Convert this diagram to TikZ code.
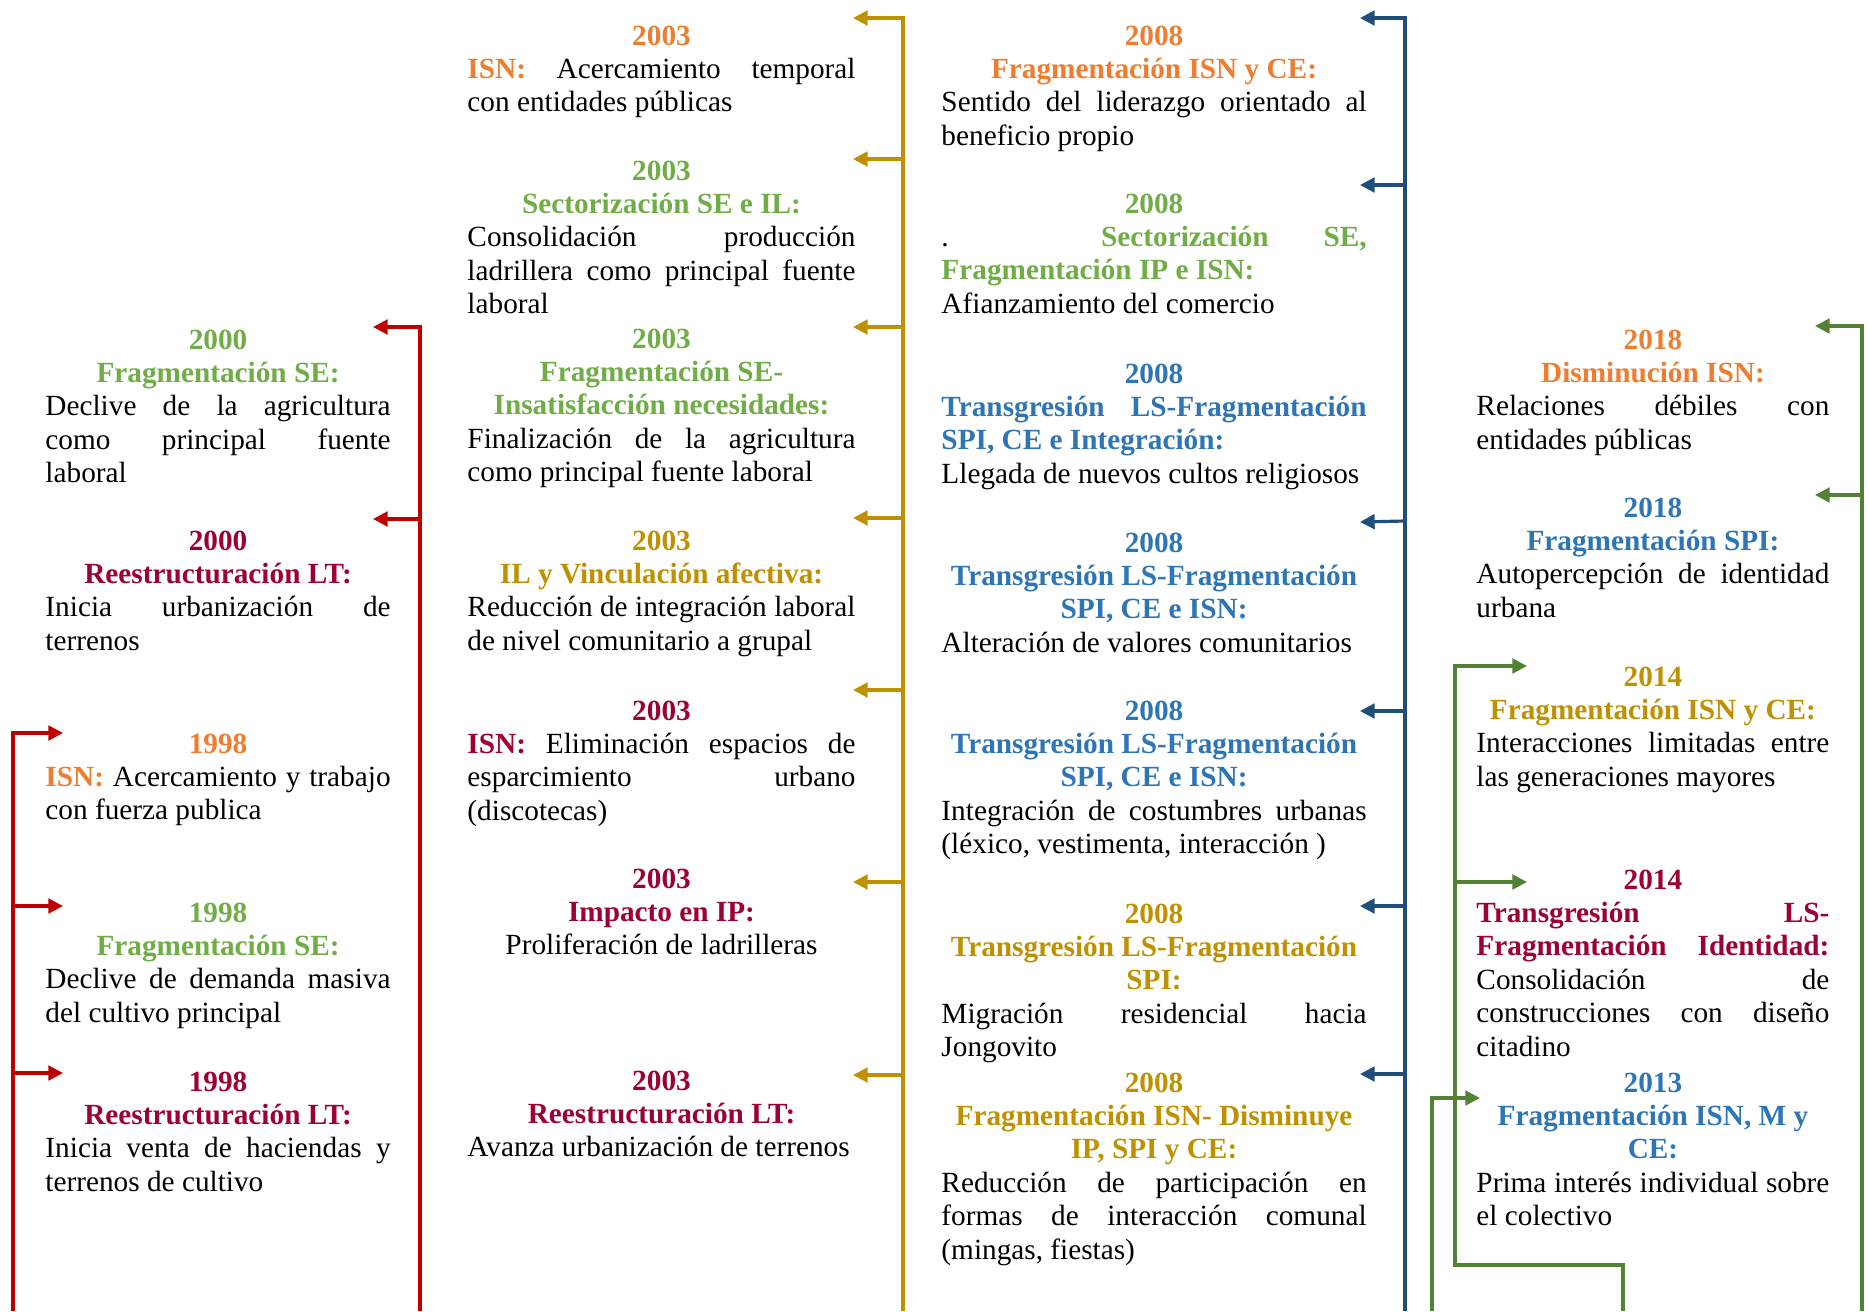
\documentclass[tikz,border=0pt]{standalone}
\usepackage{fontspec}
\setmainfont{Liberation Serif}
\usetikzlibrary{arrows.meta}
\definecolor{corange}{HTML}{ED7D31}
\definecolor{cgreen}{HTML}{70AD47}
\definecolor{cred}{HTML}{9C0036}
\definecolor{cgold}{HTML}{BF9000}
\definecolor{cblue}{HTML}{2E75B6}
\definecolor{lred}{HTML}{C00000}
\definecolor{lgold}{HTML}{BF9000}
\definecolor{lblue}{HTML}{1F4E79}
\definecolor{lgreen}{HTML}{538135}
\newcommand{\hd}[2]{\textcolor{#1}{\bfseries #2}}
\newcommand{\centreline}[1]{\makebox[\linewidth][c]{#1}}
\newcommand{\justline}[1]{\makebox[\linewidth][s]{#1}}

\begin{document}
\begin{tikzpicture}[x=0.41pt, y=-0.41pt,
    entry/.style={anchor=base west, inner sep=0pt, align=flush left, font=\fontsize{12}{13.7}\selectfont},
    colA/.style={entry, text width=141.5pt},
    colB/.style={entry, text width=159.1pt},
    colC/.style={entry, text width=174.3pt},
    colD/.style={entry, text width=144.7pt},
    pointer/.style={-{Triangle[length=6pt,width=6pt]}},
    redline/.style={draw=lred, line width=1.3pt},
    goldline/.style={draw=lgold, line width=1.3pt},
    blueline/.style={draw=lblue, line width=1.3pt},
    greenline/.style={draw=lgreen, line width=1.3pt}]
    \useasboundingbox (0,0) rectangle (1868,1311);

    % primera columna: 1998 - 2000
    \node (a1) [colA] at (45,349) {\centreline{\hd{cgreen}{2000}}\\\centreline{\hd{cgreen}{Fragmentación SE:}}\\\justline{Declive de la agricultura}\\\justline{como principal fuente}\\laboral};
    \node (a2) [colA] at (45,550) {\centreline{\hd{cred}{2000}}\\\centreline{\hd{cred}{Reestructuración LT:}}\\\justline{Inicia urbanización de}\\terrenos};
    \node (a3) [colA] at (45,753) {\centreline{\hd{corange}{1998}}\\\justline{\hd{corange}{ISN:} Acercamiento y trabajo}\\con fuerza publica};
    \node (a4) [colA] at (45,922) {\centreline{\hd{cgreen}{1998}}\\\centreline{\hd{cgreen}{Fragmentación SE:}}\\\justline{Declive de demanda masiva}\\del cultivo principal};
    \node (a5) [colA] at (45,1091) {\centreline{\hd{cred}{1998}}\\\centreline{\hd{cred}{Reestructuración LT:}}\\\justline{Inicia venta de haciendas y}\\terrenos de cultivo};

    % segunda columna: 2003
    \node (b1) [colB] at (467,45) {\centreline{\hd{corange}{2003}}\\\justline{\hd{corange}{ISN:} Acercamiento temporal}\\con entidades públicas};
    \node (b2) [colB] at (467,180) {\centreline{\hd{cgreen}{2003}}\\\centreline{\hd{cgreen}{Sectorización SE e IL:}}\\\justline{Consolidación producción}\\\justline{ladrillera como principal fuente}\\laboral};
    \node (b3) [colB] at (467,348) {\centreline{\hd{cgreen}{2003}}\\\centreline{\hd{cgreen}{Fragmentación SE-}}\\\centreline{\hd{cgreen}{Insatisfacción necesidades:}}\\\justline{Finalización de la agricultura}\\como principal fuente laboral};
    \node (b4) [colB] at (467,550) {\centreline{\hd{cgold}{2003}}\\\centreline{\hd{cgold}{IL y Vinculación afectiva:}}\\\justline{Reducción de integración laboral}\\de nivel comunitario a grupal};
    \node (b5) [colB] at (467,720) {\centreline{\hd{cred}{2003}}\\\justline{\hd{cred}{ISN:} Eliminación espacios de}\\\justline{esparcimiento urbano}\\(discotecas)};
    \node (b6) [colB] at (467,888) {\centreline{\hd{cred}{2003}}\\\centreline{\hd{cred}{Impacto en IP:}}\\\centreline{Proliferación de ladrilleras}};
    \node (b7) [colB] at (467,1090) {\centreline{\hd{cred}{2003}}\\\centreline{\hd{cred}{Reestructuración LT:}}\\Avanza urbanización de terrenos};

    % tercera columna: 2008
    \node (c1) [colC] at (941,45) {\centreline{\hd{corange}{2008}}\\\centreline{\hd{corange}{Fragmentación ISN y CE:}}\\\justline{Sentido del liderazgo orientado al}\\beneficio propio};
    \node (c2) [colC] at (941,213) {\centreline{\hd{cgreen}{2008}}\\\justline{. \hd{cgreen}{Sectorización SE,}}\\\hd{cgreen}{Fragmentación IP e ISN:}\\Afianzamiento del comercio};
    \node (c3) [colC] at (941,383) {\centreline{\hd{cblue}{2008}}\\\justline{\hd{cblue}{Transgresión LS-Fragmentación}}\\\hd{cblue}{SPI, CE e Integración:}\\Llegada de nuevos cultos religiosos};
    \node (c4) [colC] at (941,552) {\centreline{\hd{cblue}{2008}}\\\centreline{\hd{cblue}{Transgresión LS-Fragmentación}}\\\centreline{\hd{cblue}{SPI, CE e ISN:}}\\Alteración de valores comunitarios};
    \node (c5) [colC] at (941,720) {\centreline{\hd{cblue}{2008}}\\\centreline{\hd{cblue}{Transgresión LS-Fragmentación}}\\\centreline{\hd{cblue}{SPI, CE e ISN:}}\\\justline{Integración de costumbres urbanas}\\(léxico, vestimenta, interacción )};
    \node (c6) [colC] at (941,923) {\centreline{\hd{cgold}{2008}}\\\centreline{\hd{cgold}{Transgresión LS-Fragmentación}}\\\centreline{\hd{cgold}{SPI:}}\\\justline{Migración residencial hacia}\\Jongovito};
    \node (c7) [colC] at (941,1092) {\centreline{\hd{cgold}{2008}}\\\centreline{\hd{cgold}{Fragmentación ISN- Disminuye}}\\\centreline{\hd{cgold}{IP, SPI y CE:}}\\\justline{Reducción de participación en}\\\justline{formas de interacción comunal}\\(mingas, fiestas)};

    % cuarta columna: 2013 - 2018
    \node (d1) [colD] at (1476,349) {\centreline{\hd{corange}{2018}}\\\centreline{\hd{corange}{Disminución ISN:}}\\\justline{Relaciones débiles con}\\entidades públicas};
    \node (d2) [colD] at (1476,517) {\centreline{\hd{cblue}{2018}}\\\centreline{\hd{cblue}{Fragmentación SPI:}}\\\justline{Autopercepción de identidad}\\urbana};
    \node (d3) [colD] at (1476,686) {\centreline{\hd{cgold}{2014}}\\\centreline{\hd{cgold}{Fragmentación ISN y CE:}}\\\justline{Interacciones limitadas entre}\\las generaciones mayores};
    \node (d4) [colD] at (1476,889) {\centreline{\hd{cred}{2014}}\\\justline{\hd{cred}{Transgresión LS-}}\\\justline{\hd{cred}{Fragmentación Identidad:}}\\\justline{Consolidación de}\\\justline{construcciones con diseño}\\citadino};
    \node (d5) [colD] at (1476,1092) {\centreline{\hd{cblue}{2013}}\\\centreline{\hd{cblue}{Fragmentación ISN, M y}}\\\centreline{\hd{cblue}{CE:}}\\\justline{Prima interés individual sobre}\\el colectivo};

    % lineas de tiempo
    \coordinate (ra0) at (13,1311);
    \coordinate (ra1) at (13,733);
    \coordinate (ra2) at (13,906);
    \coordinate (ra3) at (13,1073);
    \coordinate (ta3) at (63,733);
    \coordinate (ta4) at (63,906);
    \coordinate (ta5) at (63,1073);
    \coordinate (rb0) at (420,1311);
    \coordinate (rb1) at (420,327);
    \coordinate (rb2) at (420,519);
    \coordinate (ta1) at (373,327);
    \coordinate (ta2) at (373,519);

    \coordinate (g0) at (903,1311);
    \coordinate (g1) at (903,18);
    \coordinate (g2) at (903,159);
    \coordinate (g3) at (903,327);
    \coordinate (g4) at (903,518);
    \coordinate (g5) at (903,690);
    \coordinate (g6) at (903,882);
    \coordinate (g7) at (903,1075);
    \coordinate (tb1) at (853,18);
    \coordinate (tb2) at (853,159);
    \coordinate (tb3) at (853,327);
    \coordinate (tb4) at (853,518);
    \coordinate (tb5) at (853,690);
    \coordinate (tb6) at (853,882);
    \coordinate (tb7) at (853,1075);

    \coordinate (u0) at (1405,1311);
    \coordinate (u1) at (1405,18);
    \coordinate (u2) at (1405,185);
    \coordinate (u3) at (1405,521);
    \coordinate (u4) at (1405,711);
    \coordinate (u5) at (1405,906);
    \coordinate (u6) at (1405,1074);
    \coordinate (tc1) at (1360,18);
    \coordinate (tc2) at (1360,185);
    \coordinate (tc3) at (1360,522);
    \coordinate (tc4) at (1360,711);
    \coordinate (tc5) at (1360,906);
    \coordinate (tc6) at (1360,1074);

    \coordinate (v0) at (1862,1311);
    \coordinate (v1) at (1862,326);
    \coordinate (v2) at (1862,495);
    \coordinate (td1) at (1815,326);
    \coordinate (td2) at (1815,495);
    \coordinate (w0) at (1623,1311);
    \coordinate (w1) at (1623,1265);
    \coordinate (w2) at (1455,1265);
    \coordinate (w3) at (1455,666);
    \coordinate (w4) at (1455,882);
    \coordinate (td3) at (1527,666);
    \coordinate (td4) at (1527,882);
    \coordinate (z0) at (1432,1311);
    \coordinate (z1) at (1432,1098);
    \coordinate (td5) at (1480,1098);

    \draw [redline, pointer] (ra0) -- (ra1) -- (ta3);
    \draw [redline, pointer] (ra2) -- (ta4);
    \draw [redline, pointer] (ra3) -- (ta5);
    \draw [redline, pointer] (rb0) -- (rb1) -- (ta1);
    \draw [redline, pointer] (rb2) -- (ta2);

    \draw [goldline, pointer] (g0) -- (g1) -- (tb1);
    \draw [goldline, pointer] (g2) -- (tb2);
    \draw [goldline, pointer] (g3) -- (tb3);
    \draw [goldline, pointer] (g4) -- (tb4);
    \draw [goldline, pointer] (g5) -- (tb5);
    \draw [goldline, pointer] (g6) -- (tb6);
    \draw [goldline, pointer] (g7) -- (tb7);

    \draw [blueline, pointer] (u0) -- (u1) -- (tc1);
    \draw [blueline, pointer] (u2) -- (tc2);
    \draw [blueline, pointer] (u3) -- (tc3);
    \draw [blueline, pointer] (u4) -- (tc4);
    \draw [blueline, pointer] (u5) -- (tc5);
    \draw [blueline, pointer] (u6) -- (tc6);

    \draw [greenline, pointer] (v0) -- (v1) -- (td1);
    \draw [greenline, pointer] (v2) -- (td2);
    \draw [greenline, pointer] (w0) -- (w1) -- (w2) -- (w3) -- (td3);
    \draw [greenline, pointer] (w4) -- (td4);
    \draw [greenline, pointer] (z0) -- (z1) -- (td5);
\end{tikzpicture}
\end{document}
